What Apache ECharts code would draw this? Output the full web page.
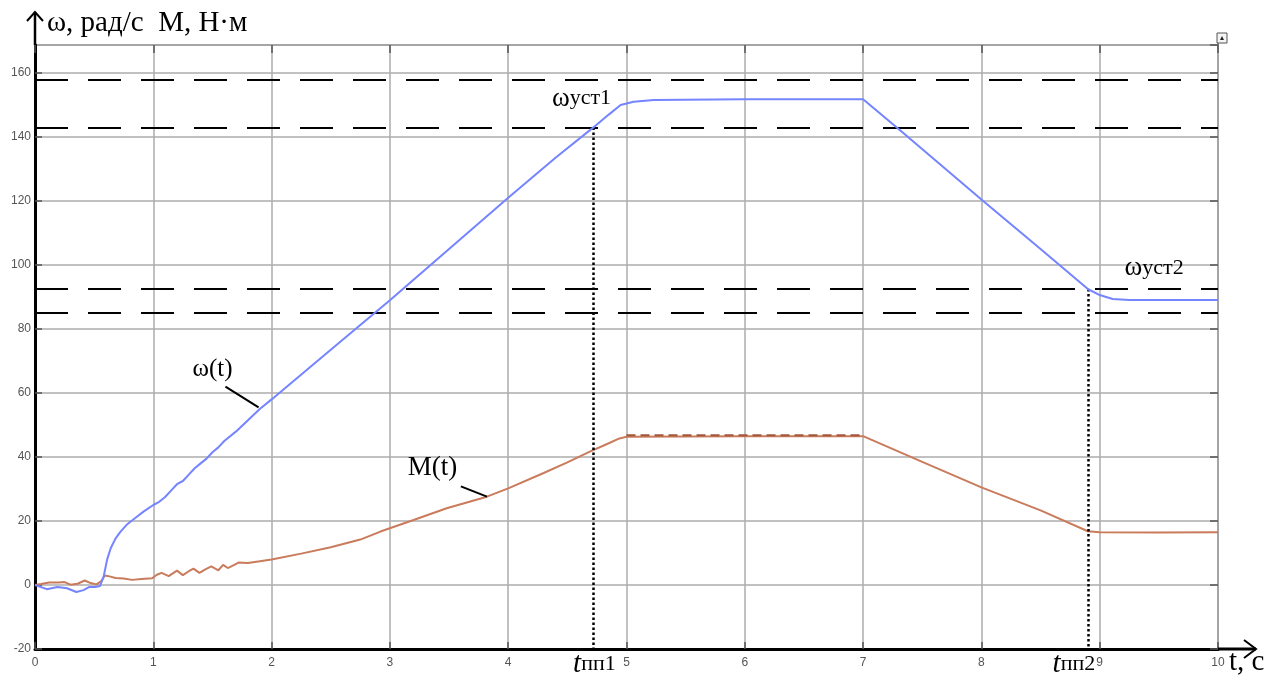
<!DOCTYPE html>
<html>
<head>
<meta charset="utf-8">
<script src="https://cdn.jsdelivr.net/npm/echarts@6/dist/echarts.min.js"></script>
<style>
  html, body { margin: 0; padding: 0; background: #fff; }
  #chart { width: 1285px; height: 681px; }
</style>
</head>
<body>
<div id="chart"></div>
<script>
// Angular speed ω(t), rad/s
const omegaT = [0, 0.1, 0.19, 0.27, 0.35, 0.41, 0.46, 0.51, 0.55, 0.58, 0.61, 0.64, 0.68, 0.72, 0.78, 0.85, 0.92,
  1.0, 1.05, 1.1, 1.15, 1.2, 1.25, 1.3, 1.35, 1.4, 1.45, 1.5, 1.55, 1.6, 1.7, 1.8, 1.9, 2.0,
  2.5, 3.0, 3.5, 4.0, 4.4, 4.72, 4.85, 4.95, 5.06, 5.23, 6.0, 7.0, 7.31, 8.0, 8.5, 8.9, 9.0, 9.11, 9.25, 10.0];
const omegaV = [0, -1.3, -0.6, -1.0, -2.2, -1.6, -0.6, -0.6, -0.3, 2.6, 8, 11.5, 14.5, 16.5, 19, 21, 23,
  25, 26, 27.5, 29.5, 31.5, 32.5, 34.5, 36.5, 38, 39.5, 41.5, 43, 45, 48, 51.5, 55, 58,
  73.5, 89, 105, 121, 133.5, 143, 147, 150, 151, 151.6, 151.8, 151.8, 142.2, 120.5, 105, 92.5, 90.6, 89.4, 89.1, 89.1];

// Motor torque M(t), N·m
const torqueT = [0, 0.05, 0.12, 0.2, 0.25, 0.3, 0.36, 0.42, 0.47, 0.52, 0.56, 0.59, 0.63, 0.68, 0.75, 0.82, 0.9,
  0.99, 1.03, 1.07, 1.13, 1.2, 1.25, 1.3, 1.34, 1.39, 1.44, 1.49, 1.55, 1.59, 1.63, 1.68, 1.72, 1.8, 1.9, 2.0,
  2.25, 2.5, 2.75, 2.92, 3.2, 3.48, 3.82, 4.0, 4.3, 4.5, 4.69, 4.85, 4.94, 5.0, 6.0, 7.0, 7.5, 8.0, 8.5, 8.9,
  9.0, 9.5, 10.0];
const torqueV = [0, 0.3, 0.8, 0.8, 0.9, 0.1, 0.4, 1.4, 0.6, 0.2, 1.2, 3.0, 2.7, 2.2, 2.0, 1.6, 1.9,
  2.1, 3.2, 3.8, 2.8, 4.5, 3.1, 4.3, 5.1, 3.8, 4.9, 5.8, 4.6, 6.3, 5.3, 6.2, 7.0, 6.9, 7.4, 8.0,
  9.8, 11.8, 14.2, 16.7, 20.3, 24.0, 27.6, 30.2, 35.0, 38.3, 41.7, 44.3, 45.8, 46.3, 46.5, 46.5, 38.5, 30.5, 23.3, 16.8,
  16.5, 16.4, 16.5];

// Torque on the steady-speed section (drawn dashed over the torque curve)
const torqueRefT = [5.0, 7.0];
const torqueRefV = [46.8, 46.8];

// Tolerance bands around the steady speeds ωуст1 and ωуст2
const bandLevels = [158, 143, 92.5, 85];

// End of each transient: time and speed where the curve enters the band
const settleT = [4.72, 8.9];
const settleW = [143, 92.5];

// Axis ranges
const tRange = [0, 10, 1];
const yRange = [-20, 168.75, 20];

const pairs = (xs, ys) => xs.map((x, i) => [x, ys[i]]);

const serif = '"Liberation Serif", "DejaVu Serif", serif';
const sans = '"Liberation Sans", Arial, sans-serif';
const gridColor = '#adadad';
const frameColor = '#6a6a6a';

const chart = echarts.init(document.getElementById('chart'), null, { renderer: 'canvas' });

const tickLabel = { color: '#555', fontFamily: sans, fontSize: 12 };

const option = {
  animation: false,
  backgroundColor: '#fff',
  grid: { left: 35, right: 67, top: 45, bottom: 32, show: true, borderColor: frameColor, borderWidth: 1.5,
          outerBoundsMode: 'none', containLabel: false },
  xAxis: [
    {
      type: 'value', min: tRange[0], max: tRange[1], interval: tRange[2],
      axisLine: { show: true, onZero: false, lineStyle: { color: '#000', width: 3 } },
      axisTick: { show: true, inside: true, length: 7, lineStyle: { color: '#555', width: 1.5 } },
      axisLabel: Object.assign({ margin: 8 }, tickLabel),
      splitLine: { show: true, lineStyle: { color: gridColor, width: 1.5 } }
    },
    {
      type: 'value', position: 'top', min: tRange[0], max: tRange[1], interval: tRange[2],
      axisLine: { show: false, onZero: false },
      axisTick: { show: true, inside: true, length: 8, lineStyle: { color: '#555', width: 1.5 } },
      axisLabel: { show: false },
      splitLine: { show: false }
    }
  ],
  yAxis: [
    {
      type: 'value', min: yRange[0], max: yRange[1], interval: yRange[2],
      axisLine: { show: true, onZero: false, lineStyle: { color: '#000', width: 3 } },
      axisTick: { show: true, inside: true, length: 7, lineStyle: { color: '#555', width: 1.5 } },
      axisLabel: Object.assign({ margin: 4, showMaxLabel: false,
        formatter: v => (Math.abs(v % 20) < 1e-6 ? String(v) : '') }, tickLabel),
      splitLine: { show: true, lineStyle: { color: gridColor, width: 1.5 } }
    },
    {
      type: 'value', position: 'right', min: yRange[0], max: yRange[1], interval: yRange[2],
      axisLine: { show: false, onZero: false },
      axisTick: { show: true, inside: true, length: 8, lineStyle: { color: '#555', width: 1.5 } },
      axisLabel: { show: false },
      splitLine: { show: false }
    }
  ],
  series: [
    {
      name: 'M(t)', type: 'line', data: pairs(torqueT, torqueV), showSymbol: false, symbol: 'none',
      lineStyle: { color: '#c97b5c', width: 2 }, z: 3
    },
    {
      name: 'M ref', type: 'line', data: pairs(torqueRefT, torqueRefV), showSymbol: false, symbol: 'none',
      lineStyle: { color: '#a4583a', width: 2, type: [9, 5] }, z: 4
    },
    {
      name: 'ω(t)', type: 'line', data: pairs(omegaT, omegaV), showSymbol: false, symbol: 'none',
      lineStyle: { color: '#7584ff', width: 2 }, z: 5,
      markLine: {
        silent: true, symbol: ['none', 'none'], label: { show: false }, animation: false,
        data: [
          ...bandLevels.map(v => ({ yAxis: v, lineStyle: { color: '#000', width: 2, type: [33, 20] } })),
          ...settleT.map((t, i) => [
            { coord: [t, settleW[i]], lineStyle: { color: '#000', width: 2.5, type: [2.5, 2.5] } },
            { coord: [t, yRange[0]] }
          ]),
          // leader lines for the curve labels
          [{ coord: [1.61, 62.0], lineStyle: { color: '#000', width: 2, type: 'solid' } }, { coord: [1.89, 55.5] }],
          [{ coord: [3.6, 30.8], lineStyle: { color: '#000', width: 2, type: 'solid' } }, { coord: [3.82, 27.6] }]
        ]
      }
    }
  ]
};

chart.setOption(option);

// Labels and axis arrows placed from data coordinates
const px = (t, v) => chart.convertToPixel({ gridIndex: 0 }, [t, v]);
const origin = px(tRange[0], yRange[0]);
const topLeft = px(tRange[0], yRange[1]);
const bottomRight = px(tRange[1], yRange[0]);

const g = [];
// vertical axis arrow
g.push({ type: 'polyline', shape: { points: [[origin[0], topLeft[1]], [origin[0], 12]] },
  style: { stroke: '#000', lineWidth: 2.5, fill: null }, z: 10 });
g.push({ type: 'polyline', shape: { points: [[origin[0] - 8, 21], [origin[0], 12], [origin[0] + 8, 21]] },
  style: { stroke: '#000', lineWidth: 2, fill: null }, z: 10 });
// horizontal axis arrow
g.push({ type: 'polyline', shape: { points: [[bottomRight[0], origin[1]], [1256, origin[1]]] },
  style: { stroke: '#000', lineWidth: 3, fill: null }, z: 10 });
g.push({ type: 'polyline', shape: { points: [[1244, origin[1] - 9], [1256, origin[1]], [1244, origin[1] + 9]] },
  style: { stroke: '#000', lineWidth: 2, fill: null }, z: 10 });
// small scope icon at the frame corner
g.push({ type: 'rect', shape: { x: bottomRight[0] - 1, y: 33, width: 10, height: 10 },
  style: { stroke: '#555', lineWidth: 1, fill: '#f4f4f4' }, z: 10 });
g.push({ type: 'polygon', shape: { points: [[bottomRight[0] + 2, 40], [bottomRight[0] + 4, 36], [bottomRight[0] + 6, 40]] },
  style: { fill: '#222' }, z: 11 });
g.push({ type: 'line', shape: { x1: bottomRight[0], y1: 43, x2: bottomRight[0], y2: topLeft[1] },
  style: { stroke: frameColor, lineWidth: 1.5 }, z: 10 });

// axis titles
g.push({ type: 'text', x: origin[0] + 12, y: 23, z: 12,
  style: { text: 'ω, рад/с  М, Н·м', font: '29px ' + serif, fill: '#000', verticalAlign: 'middle', textAlign: 'left' } });
g.push({ type: 'text', x: 1229, y: 662, z: 12,
  style: { text: 't, c', font: '29px ' + serif, fill: '#000', verticalAlign: 'middle', textAlign: 'left' } });

// curve labels
const wl = px(1.5, 67.5);
g.push({ type: 'text', x: wl[0], y: wl[1], z: 12,
  style: { text: 'ω(t)', font: '25px ' + serif, fill: '#000', verticalAlign: 'middle', textAlign: 'center' } });
const ml = px(3.36, 36.5);
g.push({ type: 'text', x: ml[0], y: ml[1], z: 12,
  style: { text: 'M(t)', font: '27px ' + serif, fill: '#000', verticalAlign: 'middle', textAlign: 'center' } });

// steady-speed labels
const rich = {
  w: { fontFamily: serif, fontSize: 27, fill: '#000' },
  s: { fontFamily: serif, fontSize: 22, fill: '#000' },
  t: { fontFamily: serif, fontSize: 29, fontStyle: 'italic', fill: '#000' }
};
const u1 = px(4.87, 152);
g.push({ type: 'text', x: u1[0], y: u1[1], z: 12,
  style: { text: '{w|ω}{s|уст1}', rich, verticalAlign: 'middle', textAlign: 'right' } });
const u2 = px(9.21, 99);
g.push({ type: 'text', x: u2[0], y: u2[1], z: 12,
  style: { text: '{w|ω}{s|уст2}', rich, verticalAlign: 'middle', textAlign: 'left' } });

// transient end labels under the time axis
const p1 = px(settleT[0], yRange[0]);
g.push({ type: 'text', x: p1[0] + 1, y: 664, z: 12,
  style: { text: '{t|t}{s|пп1}', rich, verticalAlign: 'middle', textAlign: 'center' } });
const p2 = px(settleT[1], yRange[0]);
g.push({ type: 'text', x: p2[0] - 14, y: 664, z: 12,
  style: { text: '{t|t}{s|пп2}', rich, verticalAlign: 'middle', textAlign: 'center' } });

chart.setOption({ graphic: g });
</script>
</body>
</html>
